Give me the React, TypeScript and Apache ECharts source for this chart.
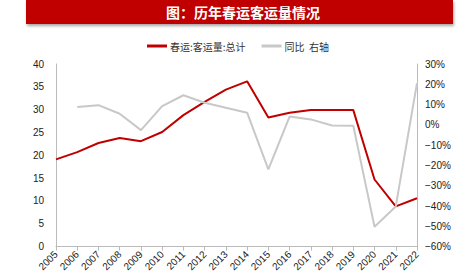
import React, { useEffect, useRef } from "react";
import * as echarts from "echarts";

const years = ["2005","2006","2007","2008","2009","2010","2011","2012","2013","2014","2015","2016","2017","2018","2019","2020","2021","2022"];
const passengers = [19.1, 20.7, 22.7, 23.8, 23.1, 25.1, 28.8, 31.7, 34.4, 36.2, 28.3, 29.3, 29.9, 29.9, 29.9, 14.7, 8.8, 10.6];
const yoy = [null, 8.8, 9.7, 5.5, -2.6, 9.2, 14.6, 10.9, 8.4, 6.0, -21.9, 4.1, 2.7, -0.3, -0.4, -50.2, -40.2, 20.6];

const title = "图：历年春运客运量情况";
const name1 = "春运:客运量:总计";
const name2 = "同比  右轴";

export default function App() {
  const ref = useRef<HTMLDivElement>(null);
  useEffect(() => {
    const chart = echarts.init(ref.current!, null, { renderer: "svg" });
    const axisLabel = { color: "#222", fontSize: 10, fontFamily: "Liberation Sans, Arial, sans-serif" };
    chart.setOption({
      animation: false,
      backgroundColor: "#fff",
      graphic: [
        {
          type: "rect",
          shape: { x: 26, y: 0, width: 427, height: 24 },
          style: { fill: "#C00000", shadowBlur: 3, shadowColor: "rgba(0,0,0,0.35)", shadowOffsetX: 1, shadowOffsetY: 2 },
        },
        {
          type: "text",
          x: 243,
          y: 12,
          style: {
            text: title,
            fill: "#fff",
            font: "bold 14px 'Noto Sans CJK SC', sans-serif",
            align: "center",
            verticalAlign: "middle",
          },
        },
      ],
      legend: {
        top: 36,
        left: 142,
        itemWidth: 20,
        itemHeight: 3,
        itemGap: 16,
        icon: "rect",
        textStyle: { fontSize: 10, color: "#333", fontFamily: "'Noto Sans CJK SC', sans-serif", padding: [0, 0, 0, -2] },
        data: [name1, name2],
      },
      grid: { left: 56, right: 55, top: 64, bottom: 25, containLabel: false },
      xAxis: {
        type: "category",
        data: years,
        boundaryGap: false,
        axisLine: { lineStyle: { color: "#bbb", width: 1 } },
        axisTick: { lineStyle: { color: "#bbb" }, length: 4 },
        axisLabel: { ...axisLabel, rotate: 45, interval: 0, margin: 6 },
      },
      yAxis: [
        {
          type: "value",
          min: 0,
          max: 40,
          interval: 5,
          axisLine: { show: true, lineStyle: { color: "#bbb" } },
          axisTick: { show: false },
          splitLine: { show: false },
          axisLabel: { ...axisLabel, margin: 12 },
        },
        {
          type: "value",
          min: -60,
          max: 30,
          interval: 10,
          position: "right",
          axisLine: { show: true, lineStyle: { color: "#bbb" } },
          axisTick: { show: false },
          splitLine: { show: false },
          axisLabel: { ...axisLabel, margin: 8, formatter: (v: number) => (v < 0 ? "\u2212" + Math.abs(v) : v) + "%" },
        },
      ],
      series: [
        {
          name: name1,
          type: "line",
          data: passengers,
          yAxisIndex: 0,
          symbol: "none",
          lineStyle: { color: "#C00000", width: 2 },
          itemStyle: { color: "#C00000" },
        },
        {
          name: name2,
          type: "line",
          data: yoy,
          yAxisIndex: 1,
          symbol: "none",
          lineStyle: { color: "#c8c8c8", width: 2 },
          itemStyle: { color: "#c8c8c8" },
        },
      ],
    });
    return () => chart.dispose();
  }, []);
  return <div ref={ref} style={{ width: 472, height: 274, position: "absolute", left: 0, top: 0 }} />;
}
